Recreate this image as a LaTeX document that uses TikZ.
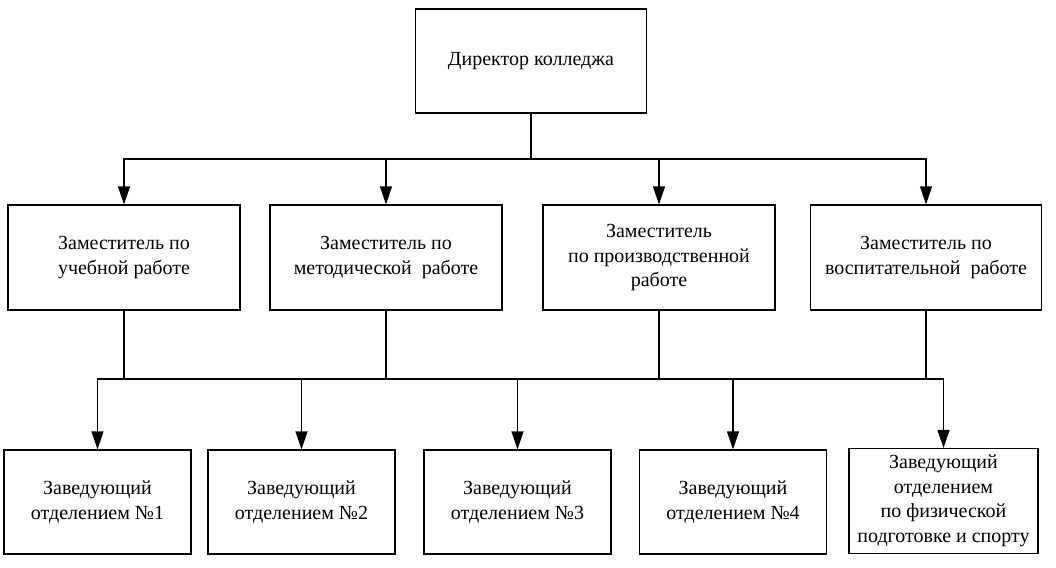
\documentclass[tikz,border=0pt]{standalone}
\usepackage{fontspec}
\setmainfont{Liberation Serif}
\usetikzlibrary{arrows.meta}
\begin{document}
\begin{tikzpicture}[x=1pt,y=-1pt,
  box/.style={draw, line width=1.3pt, inner sep=0pt, align=center, font=\fontsize{20}{24.5}\selectfont},
  link/.style={line width=1.3pt},
  arr/.style={line width=1.3pt, -{Triangle[width=12pt,length=18pt]}}]
\useasboundingbox (0,0) rectangle (1056,567);
\node[box, minimum width=231, minimum height=104] (dir) at (531,61) {Директор колледжа};
\node[box, minimum width=232, minimum height=105] (z1) at (124,257.5) {Заместитель по\\учебной работе};
\node[box, minimum width=232, minimum height=105] (z2) at (386,257.5) {Заместитель по\\методической \ работе};
\node[box, minimum width=232, minimum height=105] (z3) at (659,257.5) {Заместитель\\по производственной\\работе};
\node[box, minimum width=231, minimum height=105] (z4) at (926,257.5) {Заместитель по\\воспитательной \ работе};
\node[box, minimum width=187, minimum height=104] (o1) at (97.5,502) {Заведующий\\отделением №1};
\node[box, minimum width=187, minimum height=104] (o2) at (301.5,502) {Заведующий\\отделением №2};
\node[box, minimum width=187, minimum height=104] (o3) at (517.5,502) {Заведующий\\отделением №3};
\node[box, minimum width=187, minimum height=104] (o4) at (733,502) {Заведующий\\отделением №4};
\node[box, minimum width=189, minimum height=105] (o5) at (943.5,501) {Заведующий\\отделением\\по физической\\подготовке и спорту};
\coordinate (t) at (531,159);
\coordinate (h) at (0,379);
\draw[link] (dir.south) -- (t);
\draw[arr] (t) -| (z1.north);
\draw[arr] (t) -| (z2.north);
\draw[arr] (t) -| (z3.north);
\draw[arr] (t) -| (z4.north);
\coordinate (j1) at (z1.south |- h);
\coordinate (j2) at (z2.south |- h);
\coordinate (j3) at (z3.south |- h);
\coordinate (j4) at (z4.south |- h);
\draw[link] (z1.south) -- (j1);
\draw[link] (z2.south) -- (j2);
\draw[link] (z3.south) -- (j3);
\draw[link] (z4.south) -- (j4);
\draw[arr] (j1) -| (o1.north);
\draw[arr] (j1) -| (o2.north);
\draw[arr] (j2) -| (o3.north);
\draw[arr] (j3) -| (o4.north);
\draw[arr] (j4) -| (o5.north);
\draw[link] (j1) -- (j4);
\end{tikzpicture}
\end{document}
